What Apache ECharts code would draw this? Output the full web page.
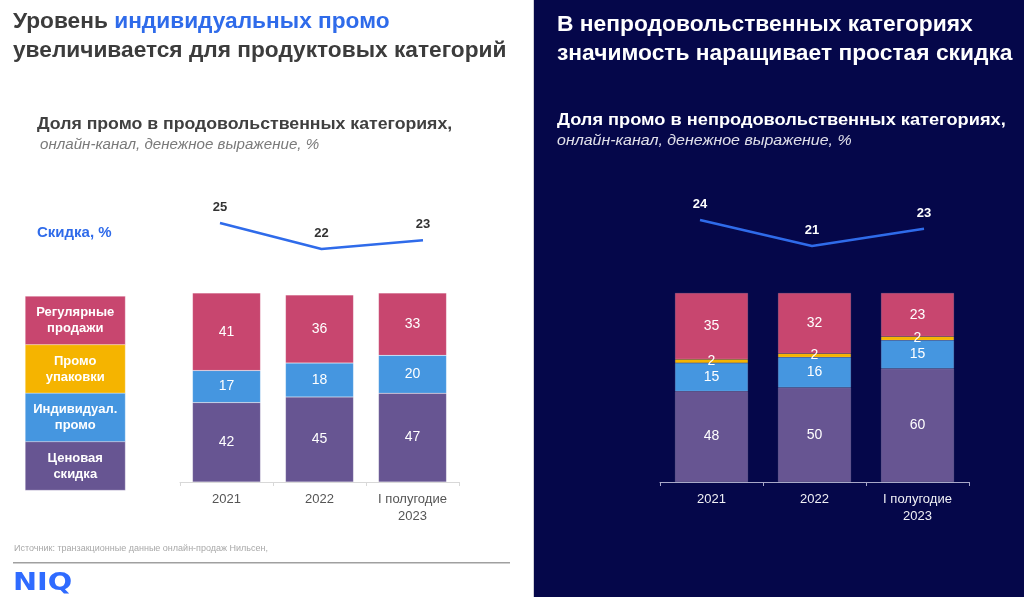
<!DOCTYPE html>
<html><head><meta charset="utf-8">
<script src="https://cdn.jsdelivr.net/npm/echarts@6/dist/echarts.min.js"></script>
<style>html,body{margin:0;padding:0;background:#fff}#c{width:1024px;height:597px}</style>
</head><body><div id="c"></div>
<script>
// ---- data ----
const categories = ['2021', '2022', 'I полугодие\n2023'];
const seriesNames = ['Ценовая скидка', 'Индивидуал. промо', 'Промо упаковки', 'Регулярные продажи'];
const legendLabels = ['Регулярные\nпродажи', 'Промо\nупаковки', 'Индивидуал.\nпромо', 'Ценовая\nскидка'];
// food categories
const foodPrice = [42, 45, 47];
const foodIndiv = [17, 18, 20];
const foodPack = [0, 0, 0];
const foodRegular = [41, 36, 33];
const foodDiscount = [25, 22, 23];
// non-food categories
const nonfoodPrice = [48, 50, 60];
const nonfoodIndiv = [15, 16, 15];
const nonfoodPack = [2, 2, 2];
const nonfoodRegular = [35, 32, 23];
const nonfoodDiscount = [24, 21, 23];

const colors = ['#675592', '#4596e0', '#f5b400', '#c8466f'];
const FONT = '"Liberation Sans", Arial, sans-serif';

const chart = echarts.init(document.getElementById('c'));

function barSeries(idx, data, xi, barW) {
  return {
    type: 'bar', name: seriesNames[idx], stack: 's' + xi, xAxisIndex: xi, yAxisIndex: xi,
    data: data, barWidth: barW,
    itemStyle: { color: colors[idx], borderColor: 'rgba(255,255,255,0.25)', borderWidth: 0.5 },
    label: { show: true, position: 'inside', color: '#fff', fontSize: 14, fontFamily: FONT,
      formatter: p => p.value ? String(p.value) : '' },
    silent: true
  };
}
function lineSeries(data, xi, labelColor) {
  return {
    type: 'line', data: data, xAxisIndex: xi, yAxisIndex: xi,
    symbol: 'circle', symbolSize: 0.1, showSymbol: true,
    itemStyle: { color: 'rgba(0,0,0,0)' },
    lineStyle: { color: '#2f6bea', width: 2.5 },
    label: { show: true, position: 'top', distance: 9, color: labelColor, fontSize: 13, fontWeight: 'bold', fontFamily: FONT },
    silent: true
  };
}

const lineY = { type: 'value', min: 20, max: 30, show: false };
const barY = { type: 'value', min: 0, max: 100, show: false };

const legendGraphics = legendLabels.map((t, i) => ({
  type: 'rect', left: 25, top: 296 + i * 48.5,
  shape: { width: 100, height: 48.5 },
  style: { fill: colors[3 - i], stroke: 'rgba(255,255,255,0.6)', lineWidth: 0.5 },
  textContent: { style: { text: t, fill: '#fff', font: 'bold 13px ' + FONT, align: 'center', lineHeight: 16 } },
  textConfig: { position: 'inside' }
}));

function txt(x, y, text, font, fill, sx) {
  return { type: 'text', x: x, y: y, scaleX: sx || 1,
    style: { text: text, font: font, fill: fill, textVerticalAlign: 'middle' } };
}

chart.setOption({
  animation: false,
  backgroundColor: '#ffffff',
  graphic: [
    { type: 'rect', left: 534, top: 0, shape: { width: 490, height: 597 }, style: { fill: '#05074a' }, z: -10 },
    { type: 'rect', left: 533, top: 0, shape: { width: 1, height: 597 }, style: { fill: '#d0d0d8' }, z: -10 },
    { type: 'text', x: 13, y: 7, style: {
        text: '{a|Уровень }{b|индивидуальных промо}\n{a|увеличивается для продуктовых категорий}',
        textVerticalAlign: 'top',
        rich: { a: { font: 'bold 22.7px ' + FONT, fill: '#3c3c3c', lineHeight: 29 },
                b: { font: 'bold 22.7px ' + FONT, fill: '#2f6bea', lineHeight: 29 } } } },
    txt(37, 125, 'Доля промо в продовольственных категориях,', 'bold 16px ' + FONT, '#404040', 1.105),
    txt(40, 145, 'онлайн-канал, денежное выражение, %', 'italic 14px ' + FONT, '#7a7a7a', 1.08),
    txt(37, 233, 'Скидка, %', 'bold 15px ' + FONT, '#2f6bea'),
    { type: 'text', x: 557, y: 10, style: {
        text: 'В непродовольственных категориях\nзначимость наращивает простая скидка',
        textVerticalAlign: 'top',
        font: 'bold 22.8px ' + FONT, fill: '#ffffff', lineHeight: 29 } },
    txt(557, 121, 'Доля промо в непродовольственных категориях,', 'bold 16px ' + FONT, '#ffffff', 1.138),
    txt(557, 141, 'онлайн-канал, денежное выражение, %', 'italic 14px ' + FONT, '#e0e0ea', 1.14),
    txt(14, 549, 'Источник: транзакционные данные онлайн-продаж Нильсен,', '9px ' + FONT, '#a8a8a8', 1.0),
    { type: 'rect', left: 13, top: 562, shape: { width: 497, height: 1.5 }, style: { fill: '#a0a0a0' } },
    txt(13, 583, 'NIQ', 'bold 25px "DejaVu Sans", sans-serif', '#2f6bff', 1.15),
    ...legendGraphics
  ],
  grid: [
    { left: 180, width: 279, top: 293, height: 189 },
    { left: 220, width: 203, top: 179.67, height: 86.67 },
    { left: 660, width: 309, top: 293, height: 189 },
    { left: 700, width: 224, top: 168, height: 86.67 }
  ],
  xAxis: [
    { type: 'category', gridIndex: 0, data: categories, boundaryGap: true,
      axisLine: { lineStyle: { color: '#d8d8d8' } }, axisTick: { show: true, length: 4, lineStyle: { color: '#d8d8d8' } },
      axisLabel: { color: '#555', fontSize: 13, fontFamily: FONT, margin: 9, lineHeight: 17 } },
    { type: 'category', gridIndex: 1, data: categories, boundaryGap: false, show: false },
    { type: 'category', gridIndex: 2, data: categories, boundaryGap: true,
      axisLine: { lineStyle: { color: '#a8a8c8' } }, axisTick: { show: true, length: 4, lineStyle: { color: '#a8a8c8' } },
      axisLabel: { color: '#f0f0f5', fontSize: 13, fontFamily: FONT, margin: 9, lineHeight: 17 } },
    { type: 'category', gridIndex: 3, data: categories, boundaryGap: false, show: false }
  ],
  yAxis: [
    Object.assign({ gridIndex: 0 }, barY),
    Object.assign({ gridIndex: 1 }, lineY),
    Object.assign({ gridIndex: 2 }, barY),
    Object.assign({ gridIndex: 3 }, lineY)
  ],
  series: [
    barSeries(0, foodPrice, 0, 68),
    barSeries(1, foodIndiv, 0, 68),
    barSeries(2, foodPack, 0, 68),
    barSeries(3, foodRegular, 0, 68),
    lineSeries(foodDiscount, 1, '#333333'),
    barSeries(0, nonfoodPrice, 2, 73),
    barSeries(1, nonfoodIndiv, 2, 73),
    barSeries(2, nonfoodPack, 2, 73),
    barSeries(3, nonfoodRegular, 2, 73),
    lineSeries(nonfoodDiscount, 3, '#ffffff')
  ]
});
</script></body></html>
